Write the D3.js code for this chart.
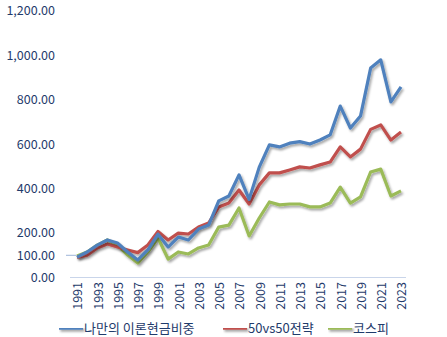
<!DOCTYPE html>
<html>
<head>
<meta charset="utf-8">
<script src="https://cdn.jsdelivr.net/npm/d3@7"></script>
<style>
body { margin: 0; background: #fff; }
text { font-family: "Noto Sans CJK KR", "Noto Sans", sans-serif; }
</style>
</head>
<body>
<div id="chart"></div>
<script>
// values
var years = d3.range(1991, 2024);
var seriesNames = ["나만의 이론현금비중", "50vs50전략", "코스피"];
var cashRatio = [92, 115, 146, 169, 155, 115, 79, 124, 195, 137, 182, 169, 218, 236, 345, 367, 462, 352, 497, 597, 588, 605, 612, 601, 619, 642, 772, 673, 727, 943, 980, 791, 858];
var fiftyFifty = [90, 101, 133, 151, 137, 124, 112, 146, 207, 169, 200, 196, 227, 245, 318, 335, 394, 331, 417, 471, 471, 484, 498, 493, 507, 520, 588, 543, 578, 667, 687, 619, 655];
var kospi = [97, 115, 146, 169, 146, 101, 65, 115, 178, 83, 115, 106, 133, 146, 227, 236, 313, 187, 268, 340, 327, 331, 331, 318, 318, 335, 407, 335, 363, 475, 488, 367, 390];
var yTicks = [0, 100, 200, 400, 600, 800, 1000, 1200];
var colors = ["#4F81BD", "#C0504D", "#9BBB59"];

var width = 447, height = 337;
var svg = d3.select("#chart").append("svg")
    .attr("width", width)
    .attr("height", height);

var defs = svg.append("defs");
var f = defs.append("filter").attr("id", "shadow")
    .attr("filterUnits", "userSpaceOnUse")
    .attr("x", 0).attr("y", 0).attr("width", width).attr("height", height);
f.append("feDropShadow").attr("dx", 1.5).attr("dy", 2).attr("stdDeviation", 1.3)
    .attr("flood-color", "#000").attr("flood-opacity", 0.35);

var x = d3.scalePoint().domain(years).range([77, 401]);
var y = d3.scaleLinear().domain([0, 1200]).range([277.5, 11]);

// y labels
svg.append("g").selectAll("text").data(yTicks)
    .enter().append("text")
    .attr("x", 55)
    .attr("y", function (d) { return y(d); })
    .attr("dy", "0.35em")
    .attr("text-anchor", "end")
    .style("font-size", "12.5px")
    .style("fill", "#1F3B6B")
    .text(function (d) { return d3.format(",.2f")(d); });

// small mark by 100
svg.append("line")
    .attr("x1", 66).attr("x2", 76)
    .attr("y1", y(100)).attr("y2", y(100))
    .style("stroke", "#9db4d8").style("stroke-width", 1);

// x axis line
svg.append("line")
    .attr("x1", 70).attr("x2", 406)
    .attr("y1", y(0)).attr("y2", y(0))
    .style("stroke", "#c9d5ea").style("stroke-width", 1);

// year labels
svg.append("g").selectAll("text").data(years.filter(function (d, i) { return i % 2 == 0; }))
    .enter().append("text")
    .attr("transform", function (d) { return "translate(" + (x(d) + 1) + ",282) rotate(-90)"; })
    .attr("dy", "0.35em")
    .attr("text-anchor", "end")
    .style("font-size", "12.5px")
    .style("fill", "#1F3B6B")
    .text(function (d) { return d; });

var line = d3.line()
    .x(function (d, i) { return x(years[i]); })
    .y(function (d) { return y(d); });

var allSeries = [cashRatio, fiftyFifty, kospi];
// kospi first, then red, blue on top
[2, 1, 0].forEach(function (k) {
    svg.append("path")
        .datum(allSeries[k])
        .attr("d", line)
        .attr("filter", "url(#shadow)")
        .style("fill", "none")
        .style("stroke", colors[k])
        .style("stroke-width", 3.2)
        .style("stroke-linejoin", "round");
});

// legend
var legendX = [59, 223, 328];
var lg = svg.append("g").selectAll("g").data(seriesNames)
    .enter().append("g")
    .attr("transform", function (d, i) { return "translate(" + legendX[i] + ",328)"; });
lg.append("rect")
    .attr("x", 0).attr("y", -1.75)
    .attr("width", 24).attr("height", 3.5)
    .attr("filter", "url(#shadow)")
    .style("fill", function (d, i) { return colors[i]; });
lg.append("text")
    .attr("x", 25)
    .attr("dy", "0.35em")
    .style("font-size", "13px")
    .style("fill", "#1F3B6B")
    .text(function (d) { return d; });
</script>
</body>
</html>
